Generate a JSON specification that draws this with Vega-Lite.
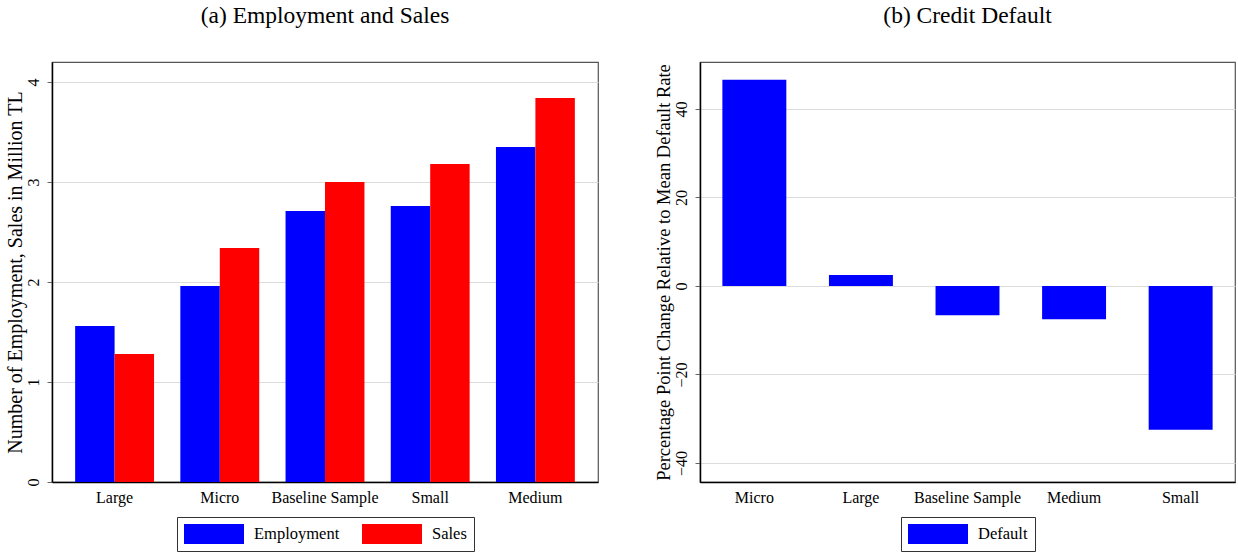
{
  "$schema": "https://vega.github.io/schema/vega-lite/v6.json",
  "padding": {"left": 4, "top": 2, "right": 10, "bottom": 2},
  "spacing": 54,
  "config": {
    "font": "Liberation Serif",
    "view": {"stroke": "#555555", "strokeWidth": 1.2},
    "title": {"font": "Liberation Serif", "fontSize": 23.5, "fontWeight": "normal", "color": "#000000", "offset": 35},
    "axis": {
      "labelFont": "Liberation Serif", "titleFont": "Liberation Serif",
      "labelFontSize": 16, "titleFontSize": 19, "titleFontWeight": "normal",
      "labelColor": "#000000", "titleColor": "#000000",
      "domainColor": "#000000", "gridColor": "#dcdcdc", "gridWidth": 1
    },
    "legend": {
      "labelFont": "Liberation Serif", "labelFontSize": 16.5, "labelColor": "#000000",
      "strokeColor": "#333333", "padding": 7, "orient": "bottom", "direction": "horizontal",
      "symbolType": "M-1,-1H5V1H-1Z", "symbolSize": 400, "symbolStrokeWidth": 0,
      "symbolOpacity": 1, "columnPadding": 22, "labelOffset": 50, "offset": 12,
      "layout": {"bottom": {"anchor": "middle"}}
    }
  },
  "hconcat": [
    {
      "title": "(a) Employment and Sales",
      "width": 546,
      "height": 420,
      "data": {"values": [
        {"group": "Large", "series": "Employment", "value": 1.56},
        {"group": "Large", "series": "Sales", "value": 1.28},
        {"group": "Micro", "series": "Employment", "value": 1.96},
        {"group": "Micro", "series": "Sales", "value": 2.34},
        {"group": "Baseline Sample", "series": "Employment", "value": 2.71},
        {"group": "Baseline Sample", "series": "Sales", "value": 3.0},
        {"group": "Small", "series": "Employment", "value": 2.76},
        {"group": "Small", "series": "Sales", "value": 3.18},
        {"group": "Medium", "series": "Employment", "value": 3.35},
        {"group": "Medium", "series": "Sales", "value": 3.84}
      ]},
      "mark": {"type": "bar"},
      "encoding": {
        "x": {"field": "group", "type": "nominal", "sort": ["Large", "Micro", "Baseline Sample", "Small", "Medium"],
              "scale": {"paddingInner": 0.25, "paddingOuter": 0.22},
              "axis": {"title": null, "labelAngle": 0, "ticks": false, "labelPadding": 7, "domainWidth": 1.5}},
        "xOffset": {"field": "series", "type": "nominal", "sort": ["Employment", "Sales"]},
        "y": {"field": "value", "type": "quantitative", "scale": {"domain": [0, 4.2], "nice": false},
              "axis": {"title": "Number of Employment, Sales in Million TL", "titleFontSize": 20, "values": [0, 1, 2, 3, 4],
                       "labelAngle": -90, "labelAlign": "center", "labelBaseline": "bottom", "labelPadding": 6,
                       "tickColor": "#666666", "tickSize": 5, "titlePadding": 0, "domainWidth": 1.5}},
        "color": {"field": "series", "type": "nominal",
                  "scale": {"domain": ["Employment", "Sales"], "range": ["#0000ff", "#ff0000"]},
                  "legend": {"title": null}}
      }
    },
    {
      "title": "(b) Credit Default",
      "width": 535,
      "height": 420,
      "data": {"values": [
        {"group": "Micro", "series": "Default", "value": 46.6},
        {"group": "Large", "series": "Default", "value": 2.5},
        {"group": "Baseline Sample", "series": "Default", "value": -6.6},
        {"group": "Medium", "series": "Default", "value": -7.5},
        {"group": "Small", "series": "Default", "value": -32.5}
      ]},
      "mark": {"type": "bar"},
      "encoding": {
        "x": {"field": "group", "type": "nominal", "sort": ["Micro", "Large", "Baseline Sample", "Medium", "Small"],
              "scale": {"paddingInner": 0.4, "paddingOuter": 0.21},
              "axis": {"title": null, "labelAngle": 0, "ticks": false, "labelPadding": 7, "domainWidth": 1.5}},
        "y": {"field": "value", "type": "quantitative", "scale": {"domain": [-44.3, 50.6], "nice": false, "zero": false},
              "axis": {"title": "Percentage Point Change Relative to Mean Default Rate", "titleFontSize": 18.5, "values": [-40, -20, 0, 20, 40],
                       "labelAngle": -90, "labelAlign": "center", "labelBaseline": "bottom", "labelPadding": 6,
                       "tickColor": "#666666", "tickSize": 5, "titlePadding": 0, "domainWidth": 1.5}},
        "color": {"field": "series", "type": "nominal",
                  "scale": {"domain": ["Default"], "range": ["#0000ff"]},
                  "legend": {"title": null}}
      }
    }
  ],
  "resolve": {"scale": {"color": "independent"}, "legend": {"color": "independent"}}
}
